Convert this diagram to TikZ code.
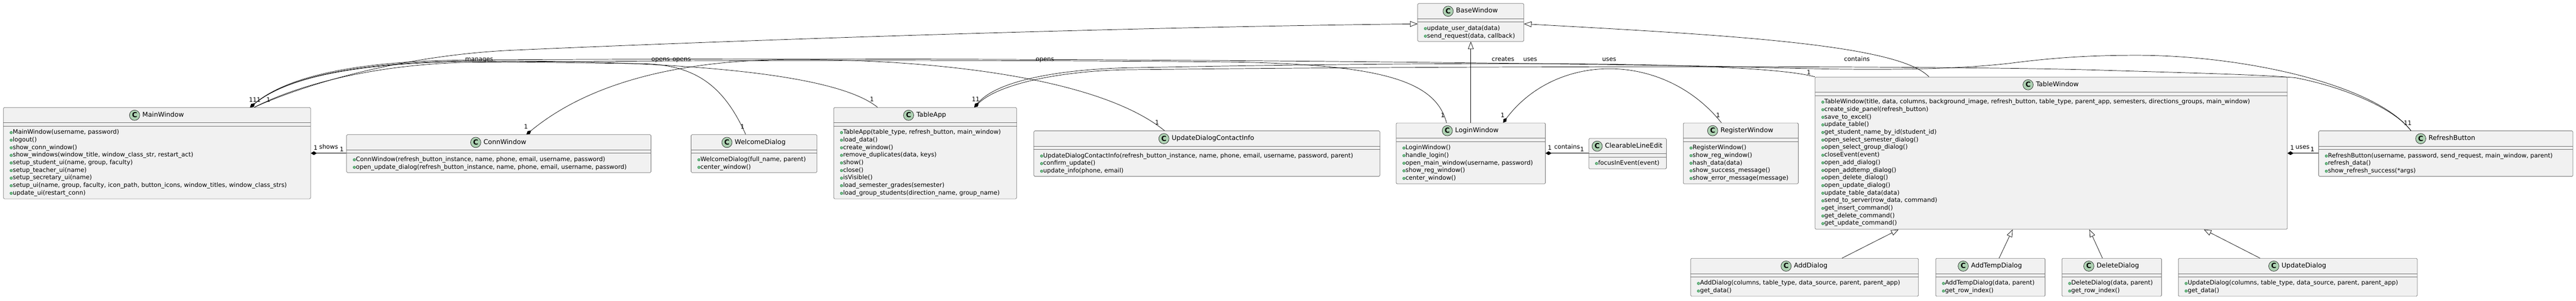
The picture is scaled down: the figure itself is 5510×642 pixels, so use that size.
\documentclass[tikz,border=0pt]{standalone}
\usepackage{fontspec}
\setmainfont{DejaVu Sans}
\usepackage{xcolor}
\usetikzlibrary{arrows.meta,positioning}
\definecolor{classfill}{HTML}{F1F1F1}
\definecolor{classline}{HTML}{6E6E6E}
\definecolor{badgefill}{HTML}{ADD1B2}
\definecolor{dotfill}{HTML}{84BE84}
\definecolor{dotline}{HTML}{038048}
\begin{document}
\begin{tikzpicture}[x=1pt,y=-1pt,inner sep=0pt,line width=0.8pt,
  classbox/.style={draw=classline,fill=classfill,rounded corners=2pt,anchor=north west},
  divider/.style={draw=classline},
  ctitle/.style={font=\fontsize{14}{16}\selectfont,text height=10pt,text depth=3pt},
  badge/.style={circle,draw=black!85,fill=badgefill,minimum size=22pt,font=\fontsize{15}{15}\selectfont\bfseries,text height=10pt,text depth=0pt},
  member/.style={anchor=west,font=\fontsize{13}{15}\selectfont,text height=9.5pt,text depth=3pt,label distance=9pt,label={[mdot]180:{}}},
  mdot/.style={circle,fill=dotfill,draw=dotline,line width=0.6pt,minimum size=5.5pt,text height=0pt,text depth=0pt},
  mult/.style={font=\fontsize{13}{15}\selectfont,text height=9.5pt,text depth=3pt},
  rel/.style={draw=black},
  comp/.style={rel,{Diamond[length=13pt,width=8pt]}-},
  gen/.style={rel,-{Triangle[length=16pt,width=12pt,fill=white]}}]
        \useasboundingbox (0,0) rectangle (5510,642);
\draw (7, 229) node[classbox,minimum width=657pt,minimum height=195pt] (mainwin) {};
\draw (741, 287) node[classbox,minimum width=651pt,minimum height=81pt] (connwin) {};
\draw (1478, 287) node[classbox,minimum width=269pt,minimum height=81pt] (welcome) {};
\draw (1783, 229) node[classbox,minimum width=391pt,minimum height=195pt] (tableapp) {};
\draw (2211, 279) node[classbox,minimum width=740pt,minimum height=97pt] (udci) {};
\draw (3032, 7) node[classbox,minimum width=227pt,minimum height=81pt] (basewin) {};
\draw (2986, 262) node[classbox,minimum width=319pt,minimum height=130pt] (loginwin) {};
\draw (3398, 295) node[classbox,minimum width=166pt,minimum height=65pt] (clearable) {};
\draw (3600, 262) node[classbox,minimum width=246pt,minimum height=130pt] (register) {};
\draw (3882, 164) node[classbox,minimum width=1010pt,minimum height=325pt] (tablewin) {};
\draw (4959, 279) node[classbox,minimum width=544pt,minimum height=97pt] (refresh) {};
\draw (3616, 551) node[classbox,minimum width=487pt,minimum height=81pt] (adddlg) {};
\draw (4140, 551) node[classbox,minimum width=234pt,minimum height=81pt] (addtemp) {};
\draw (4410, 551) node[classbox,minimum width=213pt,minimum height=81pt] (deldlg) {};
\draw (4659, 551) node[classbox,minimum width=511pt,minimum height=81pt] (upddlg) {};
\draw[divider] ([yshift=-33pt]mainwin.north west) -- ([yshift=-33pt]mainwin.north east);
\draw[divider] ([yshift=-40pt]mainwin.north west) -- ([yshift=-40pt]mainwin.north east);
\draw[divider] ([yshift=-33pt]connwin.north west) -- ([yshift=-33pt]connwin.north east);
\draw[divider] ([yshift=-40pt]connwin.north west) -- ([yshift=-40pt]connwin.north east);
\draw[divider] ([yshift=-33pt]welcome.north west) -- ([yshift=-33pt]welcome.north east);
\draw[divider] ([yshift=-40pt]welcome.north west) -- ([yshift=-40pt]welcome.north east);
\draw[divider] ([yshift=-33pt]tableapp.north west) -- ([yshift=-33pt]tableapp.north east);
\draw[divider] ([yshift=-40pt]tableapp.north west) -- ([yshift=-40pt]tableapp.north east);
\draw[divider] ([yshift=-33pt]udci.north west) -- ([yshift=-33pt]udci.north east);
\draw[divider] ([yshift=-40pt]udci.north west) -- ([yshift=-40pt]udci.north east);
\draw[divider] ([yshift=-33pt]basewin.north west) -- ([yshift=-33pt]basewin.north east);
\draw[divider] ([yshift=-40pt]basewin.north west) -- ([yshift=-40pt]basewin.north east);
\draw[divider] ([yshift=-33pt]loginwin.north west) -- ([yshift=-33pt]loginwin.north east);
\draw[divider] ([yshift=-40pt]loginwin.north west) -- ([yshift=-40pt]loginwin.north east);
\draw[divider] ([yshift=-33pt]clearable.north west) -- ([yshift=-33pt]clearable.north east);
\draw[divider] ([yshift=-40pt]clearable.north west) -- ([yshift=-40pt]clearable.north east);
\draw[divider] ([yshift=-33pt]register.north west) -- ([yshift=-33pt]register.north east);
\draw[divider] ([yshift=-40pt]register.north west) -- ([yshift=-40pt]register.north east);
\draw[divider] ([yshift=-33pt]tablewin.north west) -- ([yshift=-33pt]tablewin.north east);
\draw[divider] ([yshift=-40pt]tablewin.north west) -- ([yshift=-40pt]tablewin.north east);
\draw[divider] ([yshift=-33pt]refresh.north west) -- ([yshift=-33pt]refresh.north east);
\draw[divider] ([yshift=-40pt]refresh.north west) -- ([yshift=-40pt]refresh.north east);
\draw[divider] ([yshift=-33pt]adddlg.north west) -- ([yshift=-33pt]adddlg.north east);
\draw[divider] ([yshift=-40pt]adddlg.north west) -- ([yshift=-40pt]adddlg.north east);
\draw[divider] ([yshift=-33pt]addtemp.north west) -- ([yshift=-33pt]addtemp.north east);
\draw[divider] ([yshift=-40pt]addtemp.north west) -- ([yshift=-40pt]addtemp.north east);
\draw[divider] ([yshift=-33pt]deldlg.north west) -- ([yshift=-33pt]deldlg.north east);
\draw[divider] ([yshift=-40pt]deldlg.north west) -- ([yshift=-40pt]deldlg.north east);
\draw[divider] ([yshift=-33pt]upddlg.north west) -- ([yshift=-33pt]upddlg.north east);
\draw[divider] ([yshift=-40pt]upddlg.north west) -- ([yshift=-40pt]upddlg.north east);
\draw (349, 246) node[ctitle] (mainwin-t) {MainWindow};
\draw (1080, 304) node[ctitle] (connwin-t) {ConnWindow};
\draw (1626, 304) node[ctitle] (welcome-t) {WelcomeDialog};
\draw (1992, 246) node[ctitle] (tableapp-t) {TableApp};
\draw (2594.5, 296) node[ctitle] (udci-t) {UpdateDialogContactInfo};
\draw (3159, 24) node[ctitle] (basewin-t) {BaseWindow};
\draw (3159, 279) node[ctitle] (loginwin-t) {LoginWindow};
\draw (3494.5, 312) node[ctitle] (clearable-t) {ClearableLineEdit};
\draw (3736.5, 279) node[ctitle] (register-t) {RegisterWindow};
\draw (4400.5, 181) node[ctitle] (tablewin-t) {TableWindow};
\draw (5244.5, 296) node[ctitle] (refresh-t) {RefreshButton};
\draw (3873, 568) node[ctitle] (adddlg-t) {AddDialog};
\draw (4270.5, 568) node[ctitle] (addtemp-t) {AddTempDialog};
\draw (4530, 568) node[ctitle] (deldlg-t) {DeleteDialog};
\draw (4928, 568) node[ctitle] (upddlg-t) {UpdateDialog};
\node[badge,left=5pt of mainwin-t] (mainwin-c) {C};
\node[badge,left=5pt of connwin-t] (connwin-c) {C};
\node[badge,left=5pt of welcome-t] (welcome-c) {C};
\node[badge,left=5pt of tableapp-t] (tableapp-c) {C};
\node[badge,left=5pt of udci-t] (udci-c) {C};
\node[badge,left=5pt of basewin-t] (basewin-c) {C};
\node[badge,left=5pt of loginwin-t] (loginwin-c) {C};
\node[badge,left=5pt of clearable-t] (clearable-c) {C};
\node[badge,left=5pt of register-t] (register-c) {C};
\node[badge,left=5pt of tablewin-t] (tablewin-c) {C};
\node[badge,left=5pt of refresh-t] (refresh-c) {C};
\node[badge,left=5pt of adddlg-t] (adddlg-c) {C};
\node[badge,left=5pt of addtemp-t] (addtemp-c) {C};
\node[badge,left=5pt of deldlg-t] (deldlg-c) {C};
\node[badge,left=5pt of upddlg-t] (upddlg-c) {C};
\draw (27, 283) node[member] (mainwin-m1) {MainWindow(username, password)};
\draw (27, 299.2) node[member] (mainwin-m2) {logout()};
\draw (27, 315.4) node[member] (mainwin-m3) {show\_conn\_window()};
\draw (27, 331.6) node[member] (mainwin-m4) {show\_windows(window\_title, window\_class\_str, restart\_act)};
\draw (27, 347.8) node[member] (mainwin-m5) {setup\_student\_ui(name, group, faculty)};
\draw (27, 364) node[member] (mainwin-m6) {setup\_teacher\_ui(name)};
\draw (27, 380.2) node[member] (mainwin-m7) {setup\_secretary\_ui(name)};
\draw (27, 396.4) node[member] (mainwin-m8) {setup\_ui(name, group, faculty, icon\_path, button\_icons, window\_titles, window\_class\_strs)};
\draw (27, 412.6) node[member] (mainwin-m9) {update\_ui(restart\_conn)};
\draw (761, 341) node[member] (connwin-m1) {ConnWindow(refresh\_button\_instance, name, phone, email, username, password)};
\draw (761, 357.2) node[member] (connwin-m2) {open\_update\_dialog(refresh\_button\_instance, name, phone, email, username, password)};
\draw (1498, 341) node[member] (welcome-m1) {WelcomeDialog(full\_name, parent)};
\draw (1498, 357.2) node[member] (welcome-m2) {center\_window()};
\draw (1803, 283) node[member] (tableapp-m1) {TableApp(table\_type, refresh\_button, main\_window)};
\draw (1803, 299.2) node[member] (tableapp-m2) {load\_data()};
\draw (1803, 315.4) node[member] (tableapp-m3) {create\_window()};
\draw (1803, 331.6) node[member] (tableapp-m4) {remove\_duplicates(data, keys)};
\draw (1803, 347.8) node[member] (tableapp-m5) {show()};
\draw (1803, 364) node[member] (tableapp-m6) {close()};
\draw (1803, 380.2) node[member] (tableapp-m7) {isVisible()};
\draw (1803, 396.4) node[member] (tableapp-m8) {load\_semester\_grades(semester)};
\draw (1803, 412.6) node[member] (tableapp-m9) {load\_group\_students(direction\_name, group\_name)};
\draw (2231, 333) node[member] (udci-m1) {UpdateDialogContactInfo(refresh\_button\_instance, name, phone, email, username, password, parent)};
\draw (2231, 349.2) node[member] (udci-m2) {confirm\_update()};
\draw (2231, 365.4) node[member] (udci-m3) {update\_info(phone, email)};
\draw (3052, 61) node[member] (basewin-m1) {update\_user\_data(data)};
\draw (3052, 77.2) node[member] (basewin-m2) {send\_request(data, callback)};
\draw (3006, 316) node[member] (loginwin-m1) {LoginWindow()};
\draw (3006, 332.2) node[member] (loginwin-m2) {handle\_login()};
\draw (3006, 348.4) node[member] (loginwin-m3) {open\_main\_window(username, password)};
\draw (3006, 364.6) node[member] (loginwin-m4) {show\_reg\_window()};
\draw (3006, 380.8) node[member] (loginwin-m5) {center\_window()};
\draw (3418, 349) node[member] (clearable-m1) {focusInEvent(event)};
\draw (3620, 316) node[member] (register-m1) {RegisterWindow()};
\draw (3620, 332.2) node[member] (register-m2) {show\_reg\_window()};
\draw (3620, 348.4) node[member] (register-m3) {hash\_data(data)};
\draw (3620, 364.6) node[member] (register-m4) {show\_success\_message()};
\draw (3620, 380.8) node[member] (register-m5) {show\_error\_message(message)};
\draw (3902, 218) node[member] (tablewin-m1) {TableWindow(title, data, columns, background\_image, refresh\_button, table\_type, parent\_app, semesters, directions\_groups, main\_window)};
\draw (3902, 234.2) node[member] (tablewin-m2) {create\_side\_panel(refresh\_button)};
\draw (3902, 250.4) node[member] (tablewin-m3) {save\_to\_excel()};
\draw (3902, 266.6) node[member] (tablewin-m4) {update\_table()};
\draw (3902, 282.8) node[member] (tablewin-m5) {get\_student\_name\_by\_id(student\_id)};
\draw (3902, 299) node[member] (tablewin-m6) {open\_select\_semester\_dialog()};
\draw (3902, 315.2) node[member] (tablewin-m7) {open\_select\_group\_dialog()};
\draw (3902, 331.4) node[member] (tablewin-m8) {closeEvent(event)};
\draw (3902, 347.6) node[member] (tablewin-m9) {open\_add\_dialog()};
\draw (3902, 363.8) node[member] (tablewin-m10) {open\_addtemp\_dialog()};
\draw (3902, 380) node[member] (tablewin-m11) {open\_delete\_dialog()};
\draw (3902, 396.2) node[member] (tablewin-m12) {open\_update\_dialog()};
\draw (3902, 412.4) node[member] (tablewin-m13) {update\_table\_data(data)};
\draw (3902, 428.6) node[member] (tablewin-m14) {send\_to\_server(row\_data, command)};
\draw (3902, 444.8) node[member] (tablewin-m15) {get\_insert\_command()};
\draw (3902, 461) node[member] (tablewin-m16) {get\_delete\_command()};
\draw (3902, 477.2) node[member] (tablewin-m17) {get\_update\_command()};
\draw (4979, 333) node[member] (refresh-m1) {RefreshButton(username, password, send\_request, main\_window, parent)};
\draw (4979, 349.2) node[member] (refresh-m2) {refresh\_data()};
\draw (4979, 365.4) node[member] (refresh-m3) {show\_refresh\_success(*args)};
\draw (3636, 605) node[member] (adddlg-m1) {AddDialog(columns, table\_type, data\_source, parent, parent\_app)};
\draw (3636, 621.2) node[member] (adddlg-m2) {get\_data()};
\draw (4160, 605) node[member] (addtemp-m1) {AddTempDialog(data, parent)};
\draw (4160, 621.2) node[member] (addtemp-m2) {get\_row\_index()};
\draw (4430, 605) node[member] (deldlg-m1) {DeleteDialog(data, parent)};
\draw (4430, 621.2) node[member] (deldlg-m2) {get\_row\_index()};
\draw (4679, 605) node[member] (upddlg-m1) {UpdateDialog(columns, table\_type, data\_source, parent, parent\_app)};
\draw (4679, 621.2) node[member] (upddlg-m2) {get\_data()};
\draw[gen] ([xshift=537pt]mainwin.north west) .. controls (640,185) and (850,118) .. (1100,107) .. controls (1600,85) and (2400,58) .. ([yshift=-44pt]basewin.north west);
\draw[gen] ([xshift=160pt]loginwin.north west) -- ([xshift=114pt]basewin.south west);
\draw[gen] ([xshift=244pt]tablewin.north west) .. controls (4060,95) and (3700,75) .. ([yshift=-44pt]basewin.north east);
\draw[gen] ([xshift=324pt]adddlg.north west) -- ([xshift=179pt]tablewin.south west);
\draw[gen] ([xshift=136pt]addtemp.north west) -- ([xshift=423pt]tablewin.south west);
\draw[gen] ([xshift=87pt]deldlg.north west) -- ([xshift=587pt]tablewin.south west);
\draw[gen] ([xshift=175pt]upddlg.north west) -- ([xshift=832pt]tablewin.south west);
\draw[comp] ([yshift=-98pt]mainwin.north east) -- ([yshift=-40pt]connwin.north west);
\draw[comp] ([yshift=-65pt]loginwin.north east) -- ([yshift=-32pt]clearable.north west);
\draw[comp] ([yshift=-163pt]tablewin.north east) -- ([yshift=-48pt]refresh.north west);
\draw[comp] ([xshift=385pt]connwin.north west) .. controls (1280,160) and (1500,127) .. (1700,127) .. controls (2000,127) and (2350,165) .. ([xshift=280pt]udci.north west);
\draw[comp] ([xshift=229pt]loginwin.north west) .. controls (3330,110) and (3560,110) .. ([xshift=82pt]register.north west);
\draw[comp] ([xshift=528pt]mainwin.north west) .. controls (620,160) and (780,135) .. (1000,131) -- (1380,136) .. controls (1480,140) and (1545,175) .. ([xshift=117pt]welcome.north west);
\draw[comp] ([xshift=528pt]mainwin.north west) .. controls (620,160) and (780,133) .. (1000,130) .. controls (1400,128) and (1780,150) .. ([xshift=94pt]tableapp.north west);
\draw[comp] ([xshift=528pt]mainwin.north west) .. controls (620,158) and (780,130) .. (1000,128) .. controls (2000,122) and (3000,130) .. (3700,142) .. controls (3950,150) and (4150,152) .. (4300,135) .. controls (4400,122) and (4480,118) .. (4570,118) .. controls (4800,118) and (5080,180) .. ([xshift=198pt]refresh.north west);
\draw[rel] ([xshift=537pt]mainwin.north west) .. controls (640,180) and (800,138) .. (1000,133) .. controls (1800,126) and (2400,130) .. (2600,132) .. controls (2950,135) and (3070,170) .. ([xshift=108pt]loginwin.north west);
\draw[comp] ([xshift=301pt]tableapp.north west) .. controls (2130,175) and (2250,150) .. (2400,145) .. controls (2900,135) and (3300,134) .. (3500,138) .. controls (3700,142) and (3830,150) .. (tablewin.north west);
\draw[comp] ([xshift=301pt]tableapp.north west) .. controls (2135,180) and (2260,153) .. (2400,149) .. controls (3200,140) and (4200,140) .. (4500,150) .. controls (4700,156) and (4850,160) .. (4910,166) .. controls (5010,185) and (5120,230) .. ([xshift=198pt]refresh.north west);
\draw (1025, 127) node[mult] (lbl-manages) {manages};
\draw (1413, 127) node[mult] (lbl-opens1) {opens};
\draw (1458, 127) node[mult] (lbl-opens2) {opens};
\draw (2235, 127) node[mult] (lbl-opens3) {opens};
\draw (3215, 127) node[mult] (lbl-creates) {creates};
\draw (3273, 127) node[mult] (lbl-uses1) {uses};
\draw (3442, 127) node[mult] (lbl-uses2) {uses};
\draw (3972, 127) node[mult] (lbl-contains1) {contains};
\draw (703, 315) node[mult] (lbl-shows) {shows};
\draw (3352, 315) node[mult] (lbl-contains2) {contains};
\draw (4925, 315) node[mult] (lbl-uses3) {uses};
\draw (545, 214) node[mult] (m-main1) {111};
\draw (574, 214) node[mult] (m-main2) {1};
\draw (675, 317) node[mult] (m-shows1) {1};
\draw (731, 320) node[mult] (m-shows2) {1};
\draw (1125, 272) node[mult] (m-conn) {1};
\draw (1588, 272) node[mult] (m-welcome) {1};
\draw (1865, 213) node[mult] (m-tableapp1) {1};
\draw (2087, 213) node[mult] (m-tableapp2) {11};
\draw (2475, 263) node[mult] (m-udci) {1};
\draw (3086, 247) node[mult] (m-login1) {1};
\draw (3214, 247) node[mult] (m-login2) {1};
\draw (3675, 247) node[mult] (m-register) {1};
\draw (3869, 156) node[mult] (m-tablewin) {1};
\draw (5150, 264) node[mult] (m-refresh) {11};
\draw (3315, 317) node[mult] (m-contains1) {1};
\draw (3384, 320) node[mult] (m-contains2) {1};
\draw (4903, 317) node[mult] (m-uses1) {1};
\draw (4946, 320) node[mult] (m-uses2) {1};
    \end{tikzpicture}
\end{document}
